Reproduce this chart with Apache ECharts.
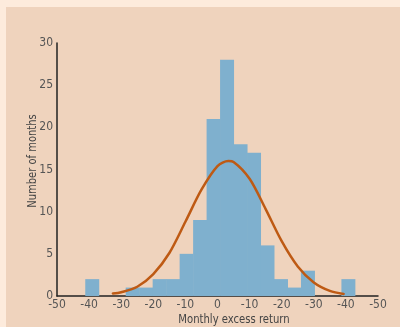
<!DOCTYPE html>
<html>
<head>
<meta charset="utf-8">
<script src="https://cdn.jsdelivr.net/npm/echarts@6/dist/echarts.min.js"></script>
<style>
  html, body { margin: 0; padding: 0; background: #FDEBDC; }
  #wrap { position: absolute; left: 6px; top: 7px; right: 0; bottom: 0; background: #EFD3BD; }
  #chart { position: absolute; left: 0; top: 0; width: 400px; height: 327px; }
</style>
</head>
<body>
<div id="wrap"></div>
<div id="chart"></div>
<script>
// Histogram bins: lower / upper edge of each bin and the number of months in it
const binStart = [-41.2, -37.0, -32.8, -28.6, -24.4, -20.2, -16.0, -11.8, -7.6, -3.4, 0.8, 5.0, 9.2, 13.4, 17.6, 21.8, 26.0, 30.2, 34.4, 38.6];
const binEnd   = [-37.0, -32.8, -28.6, -24.4, -20.2, -16.0, -11.8, -7.6, -3.4, 0.8, 5.0, 9.2, 13.4, 17.6, 21.8, 26.0, 30.2, 34.4, 38.6, 42.8];
const counts   = [2, 0, 0, 1, 1, 2, 2, 5, 9, 21, 28, 18, 17, 6, 2, 1, 3, 0, 0, 2];

// Fitted normal curve, sampled points
const curveX = [-32.6, -30, -25, -20, -15, -10, -5, 0, 3.4, 5, 10, 15, 20, 25, 30, 35, 39.3];
const curveY = [0.3, 0.45, 1.1, 2.6, 5.1, 8.8, 12.6, 15.4, 16.0, 15.9, 13.9, 10.3, 6.5, 3.5, 1.6, 0.6, 0.25];

// Axis tick labels
const xTicks = [-50, -40, -30, -20, -10, 0, 10, 20, 30, 40, 50];
const xTickLabels = ['-50', '-40', '-30', '-20', '-10', '0', '-10', '-20', '-30', '-40', '-50'];
const yTicks = [0, 5, 10, 15, 20, 25, 30];

const xTitle = 'Monthly excess return';
const yTitle = 'Number of months';

const FONT = '"DejaVu Sans Condensed", "Liberation Sans Narrow", sans-serif';

const histData = binStart.map((s, i) => [s, binEnd[i], counts[i]]);
const curveData = curveX.map((x, i) => [x, curveY[i]]);

const chart = echarts.init(document.getElementById('chart'), null, { renderer: 'canvas' });

chart.setOption({
  backgroundColor: 'transparent',
  animation: false,
  grid: { left: 57, right: 22, top: 43, bottom: 31, containLabel: false },
  xAxis: {
    type: 'value',
    min: xTicks[0],
    max: xTicks[xTicks.length - 1],
    interval: 10,
    axisLine: { show: true, onZero: false, lineStyle: { color: '#222', width: 1.5 } },
    axisTick: { show: false },
    splitLine: { show: false },
    axisLabel: {
      color: '#555',
      fontFamily: FONT,
      fontSize: 12,
      margin: 3,
      formatter: v => {
        const i = xTicks.indexOf(v);
        return i >= 0 ? xTickLabels[i] : '';
      }
    }
  },
  yAxis: {
    type: 'value',
    min: yTicks[0],
    max: yTicks[yTicks.length - 1],
    interval: 5,
    axisLine: { show: true, onZero: false, lineStyle: { color: '#222', width: 1.5 } },
    axisTick: { show: false },
    splitLine: { show: false },
    axisLabel: { color: '#555', fontFamily: FONT, fontSize: 12, margin: 4, padding: [0, 0, 2, 0] }
  },
  graphic: [
    {
      type: 'text',
      x: 234, y: 320,
      scaleX: 0.86,
      style: {
        text: xTitle, fill: '#444', font: '13px ' + FONT,
        textAlign: 'center', textVerticalAlign: 'middle'
      }
    },
    {
      type: 'text',
      x: 33, y: 161,
      rotation: Math.PI / 2,
      scaleX: 0.85,
      style: {
        text: yTitle, fill: '#444', font: '13px ' + FONT,
        textAlign: 'center', textVerticalAlign: 'middle'
      }
    }
  ],
  series: [
    {
      type: 'custom',
      data: histData,
      z: 2,
      renderItem: (params, api) => {
        const p0 = api.coord([api.value(0), api.value(2)]);
        const p1 = api.coord([api.value(1), 0]);
        return {
          type: 'rect',
          shape: { x: p0[0], y: p0[1], width: p1[0] - p0[0] + 0.5, height: p1[1] - p0[1] },
          style: { fill: '#7FB0CE' }
        };
      },
      encode: { x: [0, 1], y: 2 }
    },
    {
      type: 'line',
      data: curveData,
      smooth: 0.3,
      symbol: 'none',
      z: 5,
      lineStyle: { color: '#BE5A14', width: 2.5, cap: 'round' }
    }
  ]
});
</script>
</body>
</html>
